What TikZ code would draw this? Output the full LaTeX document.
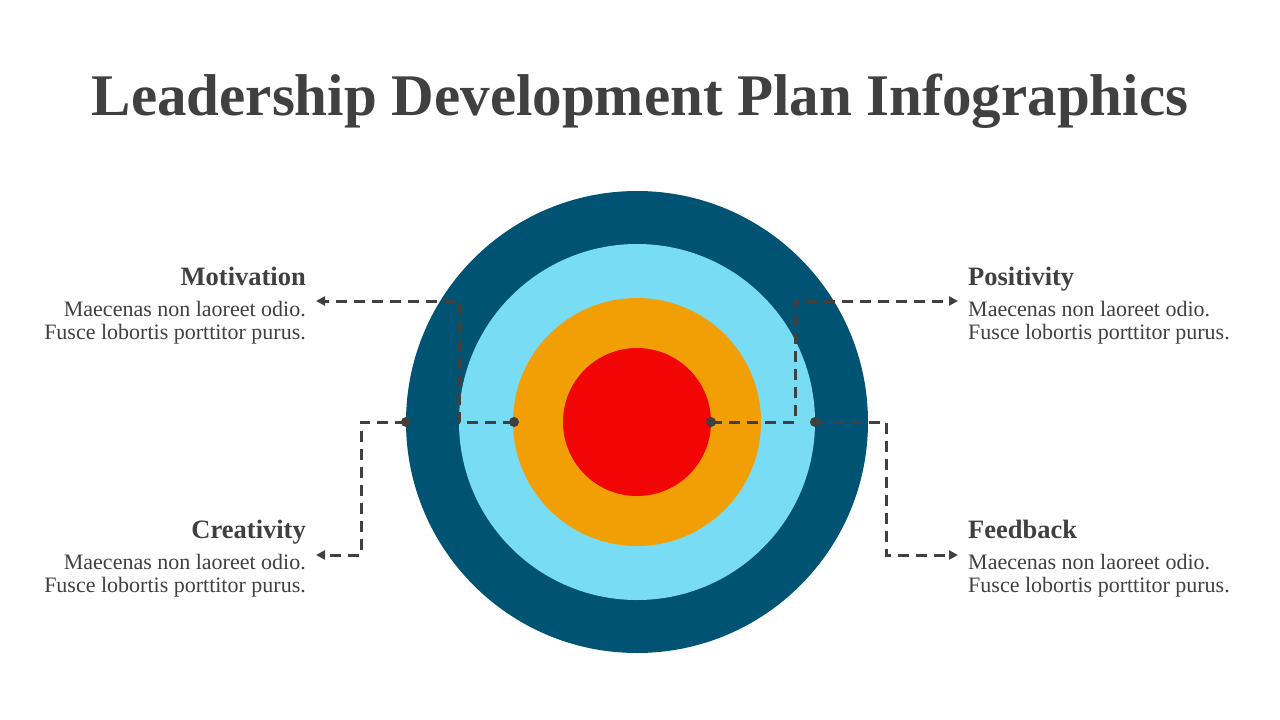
\documentclass[tikz,border=0pt]{standalone}
\usepackage{fontspec}
\setmainfont{Liberation Serif}
\usetikzlibrary{arrows.meta}

\definecolor{ringdark}{HTML}{015374}
\definecolor{ringlight}{HTML}{78DCF4}
\definecolor{ringorange}{HTML}{F29F05}
\definecolor{ringred}{HTML}{F10505}
\definecolor{inkgray}{HTML}{404040}

\tikzset{
  link/.style={draw=inkgray, line width=3pt, dash pattern=on 11pt off 7pt,
    -{Triangle[length=9pt,width=9pt]}},
  heading/.style={font=\fontsize{26.5}{30}\selectfont\bfseries, text=inkgray, inner sep=0pt},
  body/.style={font=\fontsize{22}{23}\selectfont, text=inkgray, inner sep=0pt},
}

\begin{document}
\begin{tikzpicture}[x=1pt,y=-1pt]
  \useasboundingbox[fill=white] (0,0) rectangle (1280,720);

  \node[font=\fontsize{59}{64}\selectfont\bfseries, text=inkgray, anchor=base] (title)
    at (640,115) {Leadership Development Plan Infographics};

  % target rings
  \coordinate (mid) at (637,422);
  \fill[ringdark] (mid) circle (231);
  \fill[ringlight] (mid) circle (178);
  \fill[ringorange] (mid) circle (124);
  \fill[ringred] (mid) circle (74);

  % start points on the rings
  \coordinate (dotCre) at (406,422);
  \coordinate (dotMot) at (514,422);
  \coordinate (dotPos) at (711,422);
  \coordinate (dotFee) at (815,422);

  % left side texts
  \node[heading, anchor=base east] (headMot) at (306,285) {Motivation};
  \node[body, anchor=east, align=right] (bodyMot) at (306,323)
    {Maecenas non laoreet odio.\\Fusce lobortis porttitor purus.};
  \node[heading, anchor=base east] (headCre) at (306,538) {Creativity};
  \node[body, anchor=east, align=right] (bodyCre) at (306,576)
    {Maecenas non laoreet odio.\\Fusce lobortis porttitor purus.};

  % right side texts
  \node[heading, anchor=base west] (headPos) at (968,285) {Positivity};
  \node[body, anchor=west, align=left] (bodyPos) at (968,323)
    {Maecenas non laoreet odio.\\Fusce lobortis porttitor purus.};
  \node[heading, anchor=base west] (headFee) at (968,538) {Feedback};
  \node[body, anchor=west, align=left] (bodyFee) at (968,576)
    {Maecenas non laoreet odio.\\Fusce lobortis porttitor purus.};

  % dashed leaders
  \coordinate (bendMot) at (459,422);
  \coordinate (endMot) at (316,301);
  \coordinate (bendCre) at (361,422);
  \coordinate (endCre) at (316,555);
  \coordinate (bendPos) at (795,422);
  \coordinate (endPos) at (958,301);
  \coordinate (bendFee) at (886,422);
  \coordinate (endFee) at (958,555);

  \draw[link] (dotMot) -- (bendMot) |- (endMot);
  \draw[link] (dotCre) -- (bendCre) |- (endCre);
  \draw[link] (dotPos) -- (bendPos) |- (endPos);
  \draw[link] (dotFee) -- (bendFee) |- (endFee);

  \foreach \d in {dotCre,dotMot,dotPos,dotFee}
    \fill[inkgray] (\d) circle (5);
\end{tikzpicture}
\end{document}
